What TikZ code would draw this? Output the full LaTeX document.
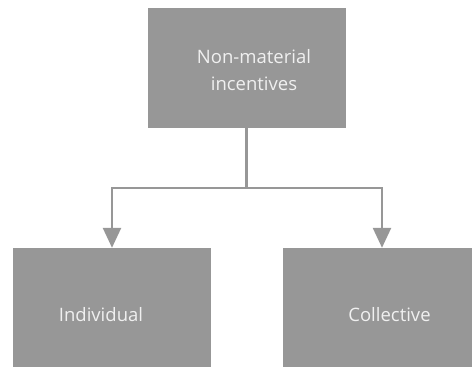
\documentclass[tikz,border=0pt]{standalone}
\usepackage{fontspec}
\setmainfont{Open Sans}
\usetikzlibrary{arrows.meta}
\definecolor{boxgray}{HTML}{979797}
\definecolor{paletext}{HTML}{F0F0F0}
\begin{document}
\begin{tikzpicture}[x=1pt,y=-1pt,
    box/.style={fill=boxgray,minimum width=198pt,minimum height=120pt,inner sep=0pt},
    lbl/.style={text=paletext,font=\fontsize{18.5}{26.6}\selectfont,align=center,inner sep=0pt},
    link/.style={draw=boxgray,line width=2.5pt}]
  \useasboundingbox (0,0) rectangle (472,367);
  \node[box] (top) at (246.5,68) {};
  \node[box] (ind) at (112,308) {};
  \node[box] (col) at (382,308) {};
  \node[lbl] (toptext) at (254,70) {Non-material\\incentives};
  \node[lbl,anchor=base] (indtext) at (101,321.7) {Individual};
  \node[lbl,anchor=base] (coltext) at (389.5,321.7) {Collective};
  \coordinate (fork) at (246.5,188);
  \draw[link] (top.south)--(fork);
  \foreach \t in {ind,col}{
    \draw[link,-{Triangle[width=18pt,length=20pt]}](fork)-|(\t.north);
  }
\end{tikzpicture}
\end{document}
